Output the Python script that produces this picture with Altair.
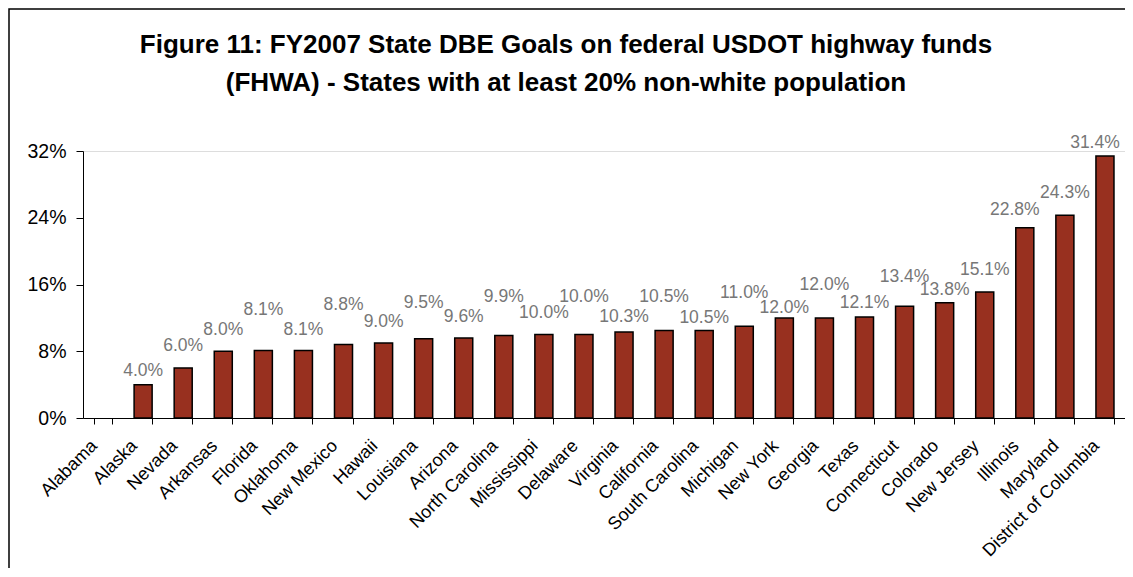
import altair as alt
import pandas as pd

states = ["Alabama", "Alaska", "Nevada", "Arkansas", "Florida", "Oklahoma",
          "New Mexico", "Hawaii", "Louisiana", "Arizona", "North Carolina",
          "Mississippi", "Delaware", "Virginia", "California", "South Carolina",
          "Michigan", "New York", "Georgia", "Texas", "Connecticut", "Colorado",
          "New Jersey", "Illinois", "Maryland", "District of Columbia"]
goals = [None, 4.0, 6.0, 8.0, 8.1, 8.1, 8.8, 9.0, 9.5, 9.6, 9.9, 10.0, 10.0,
         10.3, 10.5, 10.5, 11.0, 12.0, 12.0, 12.1, 13.4, 13.8, 15.1, 22.8,
         24.3, 31.4]
# height (in % units) at which each value label sits in the reference
label_at = [None, 5.6, 8.6, 10.6, 12.9, 10.6, 13.5, 11.5, 13.8, 12.1, 14.5,
            12.6, 14.5, 12.1, 14.5, 12.0, 15.0, 13.2, 15.9, 13.8, 16.9, 15.3,
            17.7, 24.9, 27.0, 33.0]
shifted_labels = ["Illinois", "District of Columbia"]
y_ticks = [0, 8, 16, 24, 32]
title_lines = ["Figure 11: FY2007 State DBE Goals on federal USDOT highway funds",
               "(FHWA) - States with at least 20% non-white population"]

df = pd.DataFrame({"state": states, "goal": goals, "label_at": label_at})
df["label"] = [("%.1f%%" % g) if g is not None else "" for g in goals]

FONT = "Liberation Sans"

x_enc = alt.X(
    "state:N", sort=states,
    scale=alt.Scale(paddingInner=0.55, paddingOuter=0.275),
    axis=alt.Axis(title=None, labelAngle=315, labelAlign="right",
                  labelBaseline="middle", labelFontSize=18, labelFont=FONT,
                  labelColor="black", tickBand="extent", tickSize=6,
                  tickColor="black", domainColor="black", labelPadding=19,
                  labelOffset=-9, labelOverlap=False, grid=False),
)

bars = alt.Chart(df).mark_bar(color="#98301F", stroke="black",
                              strokeWidth=1.5).encode(
    x=x_enc,
    y=alt.Y("goal:Q", scale=alt.Scale(domain=[0, 32], nice=False, zero=True),
            axis=alt.Axis(values=y_ticks, title=None,
                          labelExpr="datum.value + '%'", grid=False,
                          labelFontSize=19.5, labelFont=FONT, labelColor="black",
                          tickSize=7, tickColor="black", domainColor="black",
                          labelPadding=10)),
)

shift_test = alt.FieldOneOfPredicate(field="state", oneOf=shifted_labels)

labels = alt.Chart(df).transform_filter("isValid(datum.goal)").transform_filter(
    alt.LogicalNotPredicate(**{"not": shift_test})
).mark_text(
    fontSize=17.5, font=FONT, color="#777777", baseline="middle"
).encode(x=x_enc, y=alt.Y("label_at:Q"), text="label:N")

labels_shifted = alt.Chart(df).transform_filter(shift_test).mark_text(
    fontSize=17.5, font=FONT, color="#777777", baseline="middle", dx=-10
).encode(x=x_enc, y=alt.Y("label_at:Q"), text="label:N")

frame = alt.Chart(pd.DataFrame({"k": [0]})).mark_rect(
    fillOpacity=0, stroke="black", strokeWidth=1.5
).encode(
    x=alt.value(-74), x2=alt.value(1200),
    y=alt.value(-142), y2=alt.value(700),
)

chart = alt.layer(frame, bars, labels, labels_shifted).properties(
    width=1042, height=267,
    title=alt.Title(title_lines, font=FONT, fontSize=26, fontWeight="bold",
                    color="black", anchor="middle", frame="group", dx=-38,
                    offset=-88, lineHeight=38),
    autosize=alt.AutoSizeParams(type="none"),
    padding={"left": 75, "top": 143, "right": 0, "bottom": 150},
).configure_view(stroke="#888888", strokeWidth=1).configure(background="white")

chart.save("out.html", embed_options={"renderer": "svg", "actions": False})
